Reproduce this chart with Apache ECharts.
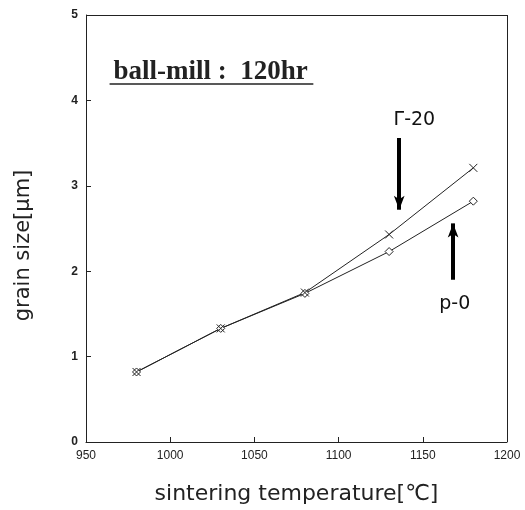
<!DOCTYPE html>
<html>
<head>
<meta charset="utf-8">
<script src="https://cdn.jsdelivr.net/npm/echarts@6/dist/echarts.min.js"></script>
<style>
html, body { margin: 0; padding: 0; background: #fff; }
#chart { width: 525px; height: 510px; }
</style>
</head>
<body>
<div id="chart"></div>
<script>
// sintering temperature [C]
var temps = [980, 1030, 1080, 1130, 1180];
// grain size [um]
var p0 = [0.82, 1.33, 1.74, 2.23, 2.82];
var g20 = [0.82, 1.33, 1.75, 2.43, 3.21];
// arrows: [x, from y, to y]
var arrowG20 = [1136, 3.56, 2.72];
var arrowP0 = [1168, 1.9, 2.56];

var ink = '#222';

function pairs(xs, ys) {
    return xs.map(function (x, i) { return [x, ys[i]]; });
}

function note(text, x, y, font) {
    return {
        silent: true, symbolSize: 0,
        label: {
            show: true, position: 'inside', formatter: text,
            rich: { t: font }
        },
        data: [{ coord: [x, y] }]
    };
}

var thinFont = { fontFamily: 'DejaVu Sans', fontSize: 19, color: '#111' };

var chart = echarts.init(document.getElementById('chart'));
var option = {
    animation: false,
    grid: { left: 86, right: 18, top: 15, bottom: 67 },
    xAxis: {
        type: 'value', min: 950, max: 1200, interval: 50,
        name: 'sintering temperature[℃]',
        nameLocation: 'middle', nameGap: 41,
        nameTextStyle: { fontFamily: 'DejaVu Sans', fontSize: 22, color: ink },
        axisLine: { lineStyle: { color: ink, width: 1 } },
        axisTick: { inside: true, length: 5, lineStyle: { color: ink } },
        axisLabel: {
            fontFamily: 'Liberation Sans', fontSize: 12, color: ink, margin: 8,
            formatter: function (v) { return String(v); }
        },
        splitLine: { show: false }
    },
    yAxis: {
        type: 'value', min: 0, max: 5, interval: 1,
        name: 'grain size[μm]',
        nameLocation: 'middle', nameGap: 52, nameRotate: 90,
        nameTextStyle: { fontFamily: 'DejaVu Sans', fontSize: 21, color: ink, padding: [0, 34, 0, 0] },
        axisLine: { lineStyle: { color: ink, width: 1 } },
        axisTick: { inside: true, length: 5, lineStyle: { color: ink } },
        axisLabel: { fontFamily: 'Liberation Sans', fontSize: 12, fontWeight: 'bold', color: ink, margin: 8 },
        splitLine: { show: false }
    },
    series: [
        {
            // frame on top / right
            type: 'line', data: [], silent: true,
            markLine: {
                silent: true, symbol: 'none', label: { show: false },
                lineStyle: { color: ink, width: 1, type: 'solid' },
                data: [
                    [{ coord: [950, 5] }, { coord: [1200, 5] }],
                    [{ coord: [1200, 0] }, { coord: [1200, 5] }]
                ]
            }
        },
        {
            name: 'p-0', type: 'line', data: pairs(temps, p0),
            symbol: 'diamond', symbolSize: 8,
            lineStyle: { color: ink, width: 1 },
            itemStyle: { color: '#fff', borderColor: ink, borderWidth: 1 },
            markLine: {
                silent: true, symbol: ['none', 'arrow'], symbolSize: [8, 14],
                label: { show: false },
                lineStyle: { color: '#000', width: 4, type: 'solid' },
                data: [[{ coord: [arrowP0[0], arrowP0[1]] }, { coord: [arrowP0[0], arrowP0[2]] }]]
            },
            markPoint: note('{t|p-0}', 1169, 1.61, thinFont)
        },
        {
            name: 'Γ-20', type: 'line', data: pairs(temps, g20),
            symbol: 'path://M0,0L10,10M10,0L0,10', symbolSize: 8,
            lineStyle: { color: ink, width: 1 },
            itemStyle: { color: 'none', borderColor: ink, borderWidth: 1 },
            markLine: {
                silent: true, symbol: ['none', 'arrow'], symbolSize: [8, 14],
                label: { show: false },
                lineStyle: { color: '#000', width: 4, type: 'solid' },
                data: [[{ coord: [arrowG20[0], arrowG20[1]] }, { coord: [arrowG20[0], arrowG20[2]] }]]
            },
            markPoint: note('{t|Γ-20}', 1145, 3.77, thinFont)
        },
        {
            type: 'line', data: [], silent: true,
            markPoint: note('{t|ball-mill :  120hr}', 1024, 4.33,
                { fontFamily: 'Liberation Serif', fontSize: 27, fontWeight: 'bold', color: ink }),
            markLine: {
                silent: true, symbol: 'none', label: { show: false },
                lineStyle: { color: ink, width: 1.5, type: 'solid' },
                data: [[{ coord: [964, 4.19] }, { coord: [1085, 4.19] }]]
            }
        }
    ]
};
chart.setOption(option);
</script>
</body>
</html>
